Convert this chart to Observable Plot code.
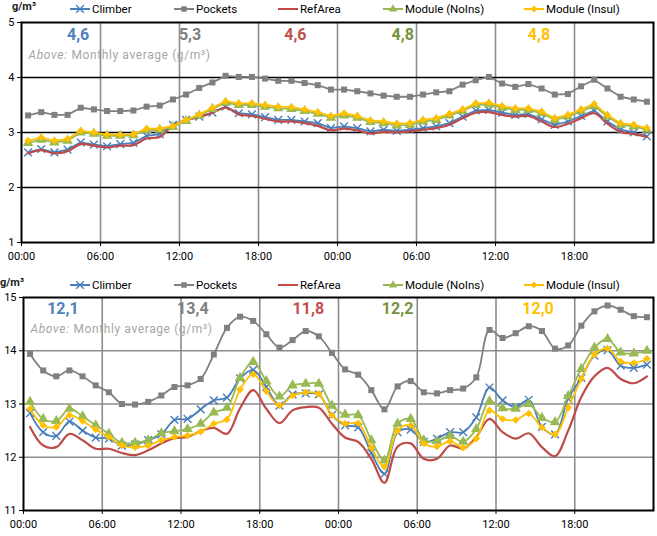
<!DOCTYPE html>
<html><head><meta charset="utf-8">
<script src="https://cdn.jsdelivr.net/npm/d3@7"></script>
<script src="https://cdn.jsdelivr.net/npm/@observablehq/plot@0.6"></script>
<style>
body{margin:0;background:#fff;font-family:Roboto,"Liberation Sans",sans-serif;}
#root{position:relative;width:657px;height:536px;overflow:hidden}
.leg{position:absolute;left:0;width:657px;height:18px}
.item{position:absolute;display:flex;align-items:center;font-size:11.5px;line-height:14px;white-space:nowrap;color:#000}
.item svg{margin-right:2px}
.unit{position:absolute;font-size:11px;line-height:13px;font-weight:bold;color:#222}
.chart{position:absolute;left:0}
svg{display:block}
</style></head>
<body><div id="root"></div>
<script>
// ---------- data ----------
const seriesNames = ["Climber","Pockets","RefArea","Module (NoIns)","Module (Insul)"];
const xTickVals = [0,6,12,18,24,30,36,42];
const xTickLabels = ["00:00","06:00","12:00","18:00","00:00","06:00","12:00","18:00"];

// top chart (1..5 g/m3)
const topClimber = [2.64,2.70,2.64,2.69,2.82,2.78,2.75,2.79,2.81,2.94,2.97,3.14,3.23,3.29,3.36,3.47,3.35,3.33,3.28,3.23,3.23,3.20,3.17,3.08,3.11,3.08,3.02,3.05,3.03,3.05,3.08,3.11,3.17,3.29,3.40,3.41,3.36,3.32,3.34,3.24,3.14,3.20,3.30,3.40,3.20,3.05,3.00,2.93];
const topPockets = [3.31,3.37,3.32,3.32,3.45,3.42,3.39,3.39,3.40,3.47,3.49,3.60,3.69,3.81,3.91,4.03,4.01,4.01,3.98,3.94,3.94,3.90,3.86,3.78,3.78,3.75,3.71,3.67,3.65,3.65,3.69,3.73,3.75,3.87,3.95,4.01,3.89,3.83,3.88,3.80,3.69,3.70,3.84,3.96,3.80,3.65,3.60,3.56];
const topRefArea = [2.62,2.68,2.62,2.66,2.79,2.76,2.73,2.76,2.77,2.89,2.92,3.12,3.22,3.28,3.36,3.45,3.33,3.30,3.25,3.20,3.20,3.17,3.12,3.04,3.07,3.04,2.98,3.01,3.00,3.02,3.05,3.08,3.14,3.26,3.36,3.37,3.32,3.29,3.30,3.20,3.10,3.16,3.26,3.35,3.16,3.01,2.97,2.92];
const topNoIns = [2.81,2.87,2.82,2.85,3.00,2.98,2.94,2.94,2.95,3.04,3.05,3.10,3.21,3.31,3.43,3.54,3.50,3.50,3.47,3.44,3.43,3.39,3.34,3.27,3.31,3.27,3.19,3.17,3.13,3.14,3.20,3.23,3.31,3.39,3.50,3.51,3.45,3.41,3.41,3.35,3.23,3.29,3.39,3.48,3.29,3.14,3.11,3.05];
const topInsul = [2.85,2.91,2.85,2.88,3.03,3.00,2.96,2.96,2.97,3.07,3.07,3.12,3.23,3.33,3.45,3.57,3.53,3.53,3.50,3.47,3.46,3.42,3.37,3.30,3.35,3.30,3.22,3.20,3.16,3.17,3.23,3.26,3.34,3.42,3.53,3.54,3.48,3.44,3.44,3.38,3.26,3.32,3.42,3.52,3.32,3.17,3.14,3.08];
const topAvgLabels = ["4,6","5,3","4,6","4,8","4,8"];
const topAvgHour = [4.3,12.8,20.8,28.95,39.3];

// bottom chart (11..15 g/m3)
const botClimber = [12.83,12.47,12.40,12.67,12.50,12.37,12.35,12.22,12.24,12.32,12.43,12.70,12.72,12.90,13.07,13.12,13.48,13.64,13.32,12.97,13.18,13.20,13.18,12.79,12.60,12.56,12.08,11.69,12.47,12.52,12.29,12.35,12.47,12.47,12.75,13.31,13.07,12.94,13.08,12.57,12.43,13.10,13.49,13.91,14.01,13.72,13.68,13.74];
const botPockets = [13.94,13.63,13.52,13.63,13.52,13.35,13.22,13.00,12.99,13.04,13.16,13.32,13.35,13.47,13.93,14.43,14.64,14.56,14.31,14.06,14.20,14.37,14.27,13.96,13.65,13.55,13.26,12.90,13.33,13.43,13.22,13.20,13.26,13.29,13.50,14.39,14.24,14.33,14.46,14.37,14.04,14.10,14.47,14.74,14.85,14.77,14.65,14.63];
const botRefArea = [12.57,12.22,12.19,12.44,12.32,12.16,12.16,12.08,12.04,12.13,12.26,12.36,12.38,12.49,12.55,12.44,12.92,13.26,12.91,12.64,12.88,12.94,12.93,12.63,12.37,12.29,11.97,11.52,12.20,12.26,11.97,11.97,12.22,12.16,12.38,12.72,12.47,12.35,12.45,12.19,12.02,12.50,13.13,13.52,13.68,13.47,13.39,13.52];
const botNoIns = [13.04,12.72,12.68,12.91,12.77,12.60,12.44,12.27,12.27,12.32,12.45,12.49,12.53,12.63,12.84,12.93,13.49,13.79,13.43,13.14,13.35,13.38,13.38,12.97,12.80,12.79,12.32,11.94,12.63,12.72,12.32,12.30,12.40,12.29,12.53,13.05,12.92,12.91,13.00,12.74,12.66,13.15,13.66,14.06,14.22,13.97,13.95,14.00];
const botInsul = [12.91,12.60,12.57,12.79,12.68,12.52,12.38,12.22,12.19,12.22,12.32,12.38,12.41,12.48,12.63,12.71,13.27,13.56,13.24,12.97,13.16,13.22,13.19,12.79,12.63,12.64,12.18,11.82,12.50,12.60,12.26,12.20,12.30,12.18,12.35,12.88,12.72,12.70,12.82,12.56,12.43,12.93,13.47,13.93,14.04,13.80,13.77,13.85];
const botAvgLabels = ["12,1","13,4","11,8","12,2","12,0"];
const botAvgHour = [3.0,12.9,21.7,28.5,39.2];

// ---------- styles ----------
const FONT = "Roboto, 'Liberation Sans', sans-serif";
const lineColors = ["#4A7EBB","#808080","#BE4B48","#98B954","#FFC000"];
const labelColors = ["#4F81BD","#7F7F7F","#C0504D","#76923C","#FFC000"];
const symbols = ["times","square","none","triangle","diamond2"];
const legendX = [70,174,278,383,524];

const hours = d3.range(48).map(i => i + 0.5);
const toRows = vals => vals.map((v, i) => ({x: hours[i], y: v}));

function seriesMarks(valsList, smooth) {
  const marks = [];
  valsList.forEach((vals, k) => {
    const rows = toRows(vals);
    const curve = (k === 2 || smooth) ? "catmull-rom" : "linear";
    marks.push(Plot.line(rows, {x: "x", y: "y", stroke: lineColors[k], strokeWidth: k === 2 ? 2.2 : 1.8, curve}));
    if (symbols[k] === "times") {
      marks.push(Plot.dot(rows, {x: "x", y: "y", symbol: "times", r: 3.6, stroke: lineColors[k], strokeWidth: 1.4}));
    } else if (symbols[k] !== "none") {
      const r = symbols[k] === "square" ? 3.4 : symbols[k] === "triangle" ? 3.9 : 3.4;
      marks.push(Plot.dot(rows, {x: "x", y: "y", symbol: symbols[k], r, fill: lineColors[k], stroke: "none"}));
    }
  });
  return marks;
}

function makeChart({height, marginTop, marginLeft, yDomain, yTicks, hGridColor, vals, avgLabels, avgHour, avgDy, aboveDy, smooth}) {
  const marks = [
    Plot.gridX(xTickVals.slice(1), {stroke: "#8c8c8c", strokeOpacity: 1, strokeWidth: 1.6}),
    Plot.gridY(yTicks.slice(1, -1), {stroke: hGridColor, strokeOpacity: 1, strokeWidth: 1.6}),
    Plot.axisX({ticks: xTickVals, tickFormat: d => xTickLabels[xTickVals.indexOf(d)], tickSize: 4, tickPadding: 6, label: null, fontSize: 11}),
    Plot.axisY({ticks: yTicks, tickFormat: d => String(d), tickSize: 4, tickPadding: 3, label: null, fontSize: 11}),
    ...seriesMarks(vals, smooth),
    Plot.frame({stroke: "#000", strokeWidth: 2}),
    Plot.text(["Above:"], {frameAnchor: "top-left", dx: 7, dy: aboveDy, textAnchor: "start", lineAnchor: "middle", fontStyle: "italic", fill: "#a6a6a6", fontSize: 12}),
    Plot.text(["Monthly average (g/m³)"], {frameAnchor: "top-left", dx: 50, dy: aboveDy, textAnchor: "start", lineAnchor: "middle", fill: "#a6a6a6", fontSize: 12})
  ];
  avgLabels.forEach((lab, k) => {
    marks.push(Plot.text([lab], {x: avgHour[k], frameAnchor: "top", dy: avgDy, lineAnchor: "middle", fill: labelColors[k], fontSize: 16, fontWeight: "bold"}));
  });
  const svg = Plot.plot({
    width: 657, height, marginTop, marginBottom: 26, marginLeft, marginRight: 4,
    x: {domain: [0, 48]},
    y: {domain: yDomain},
    style: {fontFamily: FONT, fontSize: "11px", color: "#000", background: "transparent"},
    marks
  });
  d3.select(svg).selectAll("text").filter(function() { return this.textContent === "Above:" || this.textContent.startsWith("Monthly"); })
    .style("letter-spacing", "0.6px");
  return svg;
}

function legend(top, unitTop, unitLeft, itemTop) {
  const div = document.createElement("div");
  div.className = "leg";
  div.style.top = top + "px";
  const u = document.createElement("div");
  u.className = "unit"; u.textContent = "g/m³";
  u.style.top = unitTop + "px"; u.style.left = unitLeft + "px";
  div.appendChild(u);
  seriesNames.forEach((name, k) => {
    const it = document.createElement("div");
    it.className = "item";
    it.style.left = legendX[k] + "px"; it.style.top = itemTop + "px";
    const ns = "http://www.w3.org/2000/svg";
    const s = document.createElementNS(ns, "svg");
    s.setAttribute("width", 20); s.setAttribute("height", 10);
    const ln = document.createElementNS(ns, "line");
    ln.setAttribute("x1", 0); ln.setAttribute("x2", 20); ln.setAttribute("y1", 5); ln.setAttribute("y2", 5);
    ln.setAttribute("stroke", lineColors[k]); ln.setAttribute("stroke-width", 2);
    s.appendChild(ln);
    if (symbols[k] !== "none") {
      const p = document.createElementNS(ns, "path");
      const size = symbols[k] === "times" ? 40 : 30;
      const sym = {times: d3.symbolTimes, square: d3.symbolSquare, triangle: d3.symbolTriangle, diamond2: d3.symbolDiamond2}[symbols[k]];
      p.setAttribute("d", d3.symbol(sym, size)());
      p.setAttribute("transform", "translate(10,5)");
      if (symbols[k] === "times") { p.setAttribute("fill", "none"); p.setAttribute("stroke", lineColors[k]); p.setAttribute("stroke-width", 1.4); }
      else p.setAttribute("fill", lineColors[k]);
      s.appendChild(p);
    }
    it.appendChild(s);
    const t = document.createElement("span"); t.textContent = name;
    it.appendChild(t);
    div.appendChild(it);
  });
  return div;
}

const root = document.getElementById("root");
const c1 = document.createElement("div"); c1.className = "chart"; c1.style.top = "0px";
c1.appendChild(makeChart({height: 268, marginTop: 22, marginLeft: 21, yDomain: [1, 5], yTicks: [1,2,3,4,5], hGridColor: "#000",
  vals: [topClimber, topPockets, topRefArea, topNoIns, topInsul], avgLabels: topAvgLabels, avgHour: topAvgHour, avgDy: 12, aboveDy: 33, smooth: false}));
const c2 = document.createElement("div"); c2.className = "chart"; c2.style.top = "270px";
c2.appendChild(makeChart({height: 266, marginTop: 27, marginLeft: 23, yDomain: [11, 15], yTicks: [11,12,13,14,15], hGridColor: "#8c8c8c",
  vals: [botClimber, botPockets, botRefArea, botNoIns, botInsul], avgLabels: botAvgLabels, avgHour: botAvgHour, avgDy: 11, aboveDy: 32, smooth: true}));
root.appendChild(c1);
root.appendChild(c2);
root.appendChild(legend(0, 0, 12, 2));
root.appendChild(legend(270, 6, 0, 8));
</script>
</body></html>
